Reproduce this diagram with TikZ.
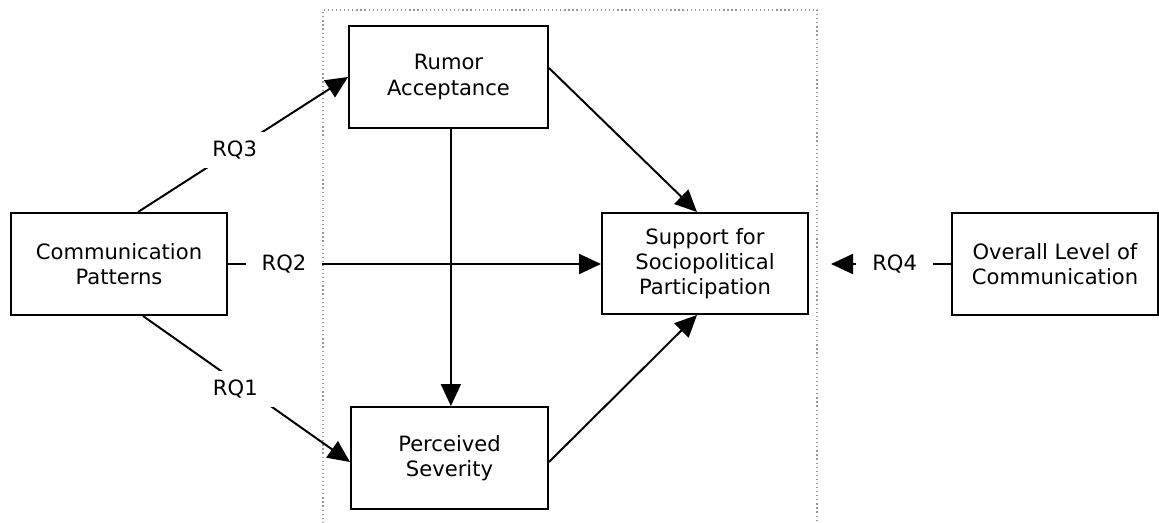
\documentclass[tikz,border=0pt]{standalone}
\usepackage{fontspec}
\setmainfont{DejaVu Sans}
\usetikzlibrary{arrows.meta,positioning,calc}
\tikzset{
  varbox/.style={draw=black, line width=1.4pt, fill=white, minimum height=2.55cm,
                 inner sep=4pt, align=center, font=\fontsize{15}{17.8}\selectfont},
  arr/.style={-{Triangle[length=0.55cm, width=0.5cm]}, line width=1.4pt},
  rqlab/.style={fill=white, inner xsep=0.4cm, inner ysep=0.22cm,
                font=\fontsize{15}{17.8}\selectfont}}

\begin{document}
\begin{tikzpicture}
    \useasboundingbox (0,0) rectangle (28.975,-13.075);
    % dotted frame round the mediators
    \draw[gray!80, line width=0.9pt, dash pattern=on 0.9pt off 2pt] (8.075,-13.075) |- (20.425,-0.25) -- (20.425,-13.075);
    \node[varbox, minimum width=5.4cm] (comm) at (2.975,-6.6)
      {Communication\\ Patterns};
    \node[varbox, minimum width=4.975cm] (rumor) at (11.2125,-1.925)
      {Rumor\\ Acceptance};
    \node[varbox, minimum width=4.925cm] (perc) at (11.2375,-11.45)
      {Perceived\\ Severity};
    \node[varbox, minimum width=5.15cm, minimum height=2.525cm] (supp) at (17.625,-6.5875)
      {Support for\\ Sociopolitical\\ Participation};
    \node[varbox, minimum width=5.15cm] (overall) at (26.375,-6.6)
      {Overall Level of\\ Communication};
    \coordinate (rqfour) at (20.775,-6.6);
    \draw[arr] ([xshift=0.475cm]comm.north) -- (rumor.west)
      node[rqlab, pos=0.46] {RQ3};
    \draw[arr] (comm.east) -- (comm.east -| supp.west)
      node[rqlab, pos=0.15] {RQ2};
    \draw[arr] ([xshift=0.6cm]comm.south) -- ([yshift=-0.1cm]perc.west)
      node[rqlab, pos=0.446, yshift=-0.2cm] {RQ1};
    \draw[arr] ([xshift=0.06cm]rumor.south) -- ([xshift=0.06cm]rumor.south |- perc.north);
    \draw[arr] ([yshift=0.225cm]rumor.east) -- ([xshift=-0.2cm]supp.north);
    \draw[arr] ([yshift=-0.1cm]perc.east) -- ([xshift=-0.2cm]supp.south);
    \draw[arr] (overall.west) -- (rqfour)
      node[rqlab, pos=0.47] {RQ4};
  \end{tikzpicture}
\end{document}
